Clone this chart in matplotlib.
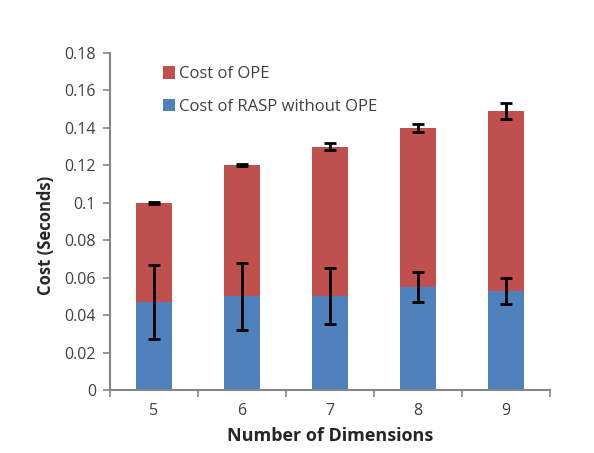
import matplotlib
matplotlib.use("Agg")
import matplotlib.pyplot as plt
import numpy as np

categories = ["5", "6", "7", "8", "9"]
rasp_cost = [0.047, 0.050, 0.050, 0.055, 0.053]
rasp_err = [0.020, 0.018, 0.015, 0.008, 0.007]
total_cost = [0.100, 0.120, 0.130, 0.140, 0.149]
total_err = [0.0006, 0.0006, 0.0018, 0.0022, 0.0045]
ope_cost = [t - r for t, r in zip(total_cost, rasp_cost)]

plt.rcParams['font.family'] = ['Open Sans', 'DejaVu Sans']

fig = plt.figure(figsize=(5.94, 4.53), dpi=100)
ax = fig.add_axes([0.185, 0.139, 0.741, 0.744])

x = np.arange(len(categories))
w = 0.4
blue = '#4F81BD'
red = '#C0504D'
ax.bar(x, rasp_cost, w, color=blue, label='Cost of RASP without OPE', zorder=2)
ax.bar(x, ope_cost, w, bottom=rasp_cost, color=red, label='Cost of OPE', zorder=2)
ax.errorbar(x, rasp_cost, yerr=rasp_err, fmt='none', ecolor='black', elinewidth=2, capsize=4, capthick=2, zorder=3)
ax.errorbar(x, total_cost, yerr=total_err, fmt='none', ecolor='black', elinewidth=2, capsize=4, capthick=2, zorder=3)

ax.set_xlim(-0.5, len(categories) - 0.5)
ax.set_ylim(0, 0.18)
ax.set_yticks(np.arange(0, 0.181, 0.02))
ax.set_yticklabels(['0', '0.02', '0.04', '0.06', '0.08', '0.1', '0.12', '0.14', '0.16', '0.18'])
ax.set_xticks(x)
ax.set_xticklabels(categories)
ax.set_xticks(np.arange(-0.5, len(categories), 1.0), minor=True)
ax.tick_params(axis='x', which='major', length=0, pad=9, labelsize=11.5, colors='#404040')
ax.tick_params(axis='x', which='minor', length=5, direction='out', color='#868686', width=1.2)
ax.tick_params(axis='y', length=5, direction='out', color='#868686', width=1.2, labelsize=11.5, labelcolor='#404040', pad=5)

for s in ['top', 'right']:
    ax.spines[s].set_visible(False)
for s in ['left', 'bottom']:
    ax.spines[s].set_color('#868686')
    ax.spines[s].set_linewidth(1.5)

ax.set_xlabel('Number of Dimensions', fontsize=13, fontweight='bold', color='#262626', labelpad=6)
ax.set_ylabel('Cost (Seconds)', fontsize=12, fontweight='bold', color='#262626')
ax.yaxis.set_label_coords(-0.125, 0.46)

handles, labels = ax.get_legend_handles_labels()
leg = ax.legend(handles[::-1], labels[::-1], loc='upper left', bbox_to_anchor=(0.105, 0.98),
                frameon=False, fontsize=12, handlelength=0.75, handleheight=0.75,
                handletextpad=0.25, labelspacing=1.0, borderaxespad=0)
for t in leg.get_texts():
    t.set_color('#404040')

fig.savefig('out.png', dpi=100)
